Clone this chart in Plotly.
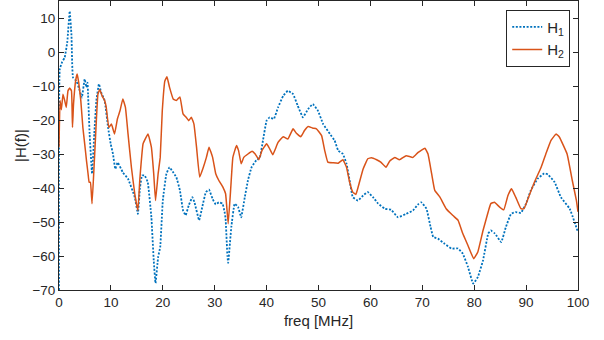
import plotly.graph_objects as go

freq_h1 = [0, 0.15, 0.6, 1.1, 1.6, 2.06, 2.4, 2.7, 3.35, 4.0, 4.4, 4.95, 5.3, 5.5, 5.6, 5.9, 6.37, 6.8, 7.2, 7.7,
           8.1, 8.8, 9.45, 9.96, 10.4, 10.85, 11.3, 12.3, 13.3, 14.6, 15.2, 15.6, 16.0, 16.5, 17.1, 17.8, 18.25,
           18.6, 19.1, 19.5, 20.0, 20.7, 21.3, 22.0, 22.6, 23.3, 23.9, 24.4, 25.0, 25.7, 26.1, 27.0, 27.6, 28.3,
           28.9, 29.6, 30.2, 30.8, 31.5, 31.9, 32.1, 32.45, 32.6, 33.2, 33.85, 34.5, 35.1, 35.8, 36.4, 37.1, 38.0,
           38.7, 39.3, 40.0, 40.6, 41.4, 42.2, 43.2, 44.1, 45.1, 46.0, 47.0, 48.0, 48.9, 49.9, 50.9, 52.2, 53.1,
           53.8, 54.7, 55.4, 56.0, 56.6, 57.6, 58.6, 59.5, 60.5, 61.5, 62.8, 64.0, 65.3, 66.9, 68.2, 69.2, 69.8,
           70.8, 71.6, 72.1, 73.0, 74.3, 75.6, 76.9, 77.8, 78.8, 79.8, 80.7, 81.7, 82.7, 83.2, 84.0, 85.2, 86.1,
           87.1, 88.0, 89.0, 90.0, 90.9, 92.2, 93.5, 94.2, 95.5, 96.7, 98.4, 100]
h1 = [-70, -5, -3, -1.6, 3, 12, 5, -7.5, -8.5, -11.4, -13.4, -8, -10.4, -9, -12.4, -24, -35.8, -24, -14.3, -9.4,
      -11.8, -14.3, -22.2, -27, -30, -34.4, -32.5, -35.4, -37.3, -42.7, -47.6, -40, -36.3, -36.3, -38.3, -48.6, -61.3,
      -68, -60.3, -57.4, -43.7, -35.8, -33.9, -35.4, -36.8, -40.7, -46.6, -48, -45.1, -42.7, -44.2, -49.5, -45.6, -41.2,
      -40.5, -43.2, -44.8, -44.2, -44.6, -47, -49, -60, -62, -51.5, -44.6, -45.6, -48.6, -42.7, -37.8, -33.9, -31.9,
      -31, -26, -20.2, -19.2, -19.7, -16.3, -12.9, -11.4, -12.4, -15.8, -19.2, -16.8, -15.3, -17.3, -21.2, -24.1, -26,
      -29, -30, -32.9, -37.8, -42.7, -43.7, -42.2, -41.2, -42.7, -44.6, -46.1, -46.4, -48.6, -47.6, -46.6, -44.8, -44.2,
      -46.1, -51.5, -54.4, -54.9, -56.4, -57.8, -57.8, -59.3, -63.2, -68.1, -66.2, -61.3, -53.4, -52.5, -53.4, -55.9, -51.5,
      -47.6, -47.1, -47.3, -44.6, -40.7, -37.3, -35.7, -36, -38.3, -42.7, -46.1, -53]

freq_h2 = [0, 0.2, 0.45, 0.77, 1.1, 1.4, 1.73, 2.06, 2.4, 2.6, 2.8, 3.2, 3.5, 3.8, 4.2, 4.6, 4.95, 5.3, 5.6, 5.8,
           6.05, 6.37, 6.75, 7.13, 7.5, 7.85, 8.3, 8.8, 9.1, 9.6, 10.1, 10.7, 11.25, 11.75, 12.3, 12.8, 13.3, 13.95,
           14.6, 15.2, 15.55, 15.7, 16.2, 17.15, 17.8, 18.25, 18.6, 19.1, 19.5, 19.9, 20.4, 20.8, 21.3, 22.0, 22.6,
           23.3, 23.9, 24.5, 25.0, 25.5, 26.0, 26.5, 27.1, 27.7, 28.4, 28.9, 29.6, 30.2, 30.8, 31.6, 32.1, 32.6, 33.1,
           33.5, 34.2, 34.6, 35.1, 35.6, 36.4, 37.2, 37.8, 38.5, 39.1, 40.0, 40.6, 41.2, 42.2, 43.2, 44.1, 45.1, 45.7,
           46.6, 47.3, 48.0, 48.9, 49.6, 50.6, 51.2, 51.8, 52.8, 53.8, 54.7, 55.4, 56.0, 56.6, 57.2, 57.8, 58.6, 59.5,
           60.2, 61.2, 62.0, 63.0, 63.7, 64.7, 65.6, 66.9, 68.2, 69.2, 70.5, 71.1, 71.8, 72.4, 73.4, 74.6, 75.9, 76.9,
           77.8, 78.8, 79.9, 80.7, 81.7, 82.7, 83.2, 83.9, 84.9, 85.7, 86.5, 87.2, 88.0, 89.0, 89.6, 90.6, 91.6, 92.9,
           93.8, 94.8, 95.8, 96.4, 97.9, 98.9, 99.7, 100]
h2 = [-28, -14.3, -17, -12.4, -14.3, -16.3, -11.4, -10.6, -11.4, -22.2, -15.3, -8.5, -6.5, -9, -14.3, -22.2, -27, -32,
      -35.8, -38.3, -38.3, -44.6, -33.9, -22.2, -12.4, -11, -12.9, -14.3, -16.3, -22.2, -21.2, -24.1, -19.7, -17.3,
      -13.8, -16.3, -24.1, -33.9, -41.7, -46.6, -38, -35, -27, -24.1, -28, -35.8, -43.7, -35.8, -31, -17.3, -8.5, -7.3,
      -10.4, -13.8, -14.3, -13.2, -18.2, -19.2, -20.2, -19.2, -21.2, -28, -36.8, -34.4, -31, -28, -31, -35.8, -37.8,
      -39.8, -41.7, -50.5, -39.8, -31, -27.5, -29, -32.9, -31, -30, -29.2, -30, -31.7, -29, -27, -28.5, -30.2, -26.6,
      -24.9, -25.6, -22.6, -23.8, -24.9, -23.1, -21.9, -22.4, -22.6, -24.6, -29, -32.4, -32.6, -32.7, -31.7, -33.9,
      -38.3, -41.2, -41.9, -38.8, -34.4, -31.4, -31.1, -31.7, -32.4, -33.9, -32.1, -31, -31.7, -30.5, -31, -29.5,
      -28.3, -30, -35.8, -40.7, -42.7, -46.1, -48.1, -49.5, -53.4, -56.9, -60.8, -58.8, -52.5, -47, -44.6, -44.2,
      -45.6, -46.4, -42.2, -40.2, -42.7, -46.1, -46.1, -42.2, -38.3, -33.9, -30, -26, -24.1, -25, -30, -37.8, -43.7, -47]

x_ticks = [0, 10, 20, 30, 40, 50, 60, 70, 80, 90, 100]
y_ticks = [-70, -60, -50, -40, -30, -20, -10, 0, 10]

axis_color = "#262626"
family = "Liberation Sans, Arial, sans-serif"
tick_font = dict(family=family, size=13.5, color=axis_color)
title_font = dict(family=family, size=15, color=axis_color)

fig = go.Figure()
fig.add_trace(go.Scatter(x=freq_h1, y=h1, mode="lines", name="H<sub>1</sub>",
                         line=dict(color="#0072BD", width=1.8, dash="2px,1.6px", shape="spline", smoothing=0.3)))
fig.add_trace(go.Scatter(x=freq_h2, y=h2, mode="lines", name="H<sub>2</sub>",
                         line=dict(color="#D95319", width=1.5, shape="spline", smoothing=0.3)))

axis_common = dict(showgrid=False, zeroline=False, showline=True, linecolor=axis_color, linewidth=1,
                   mirror="ticks", ticks="inside", ticklen=5, tickcolor=axis_color, tickwidth=1,
                   tickfont=tick_font)

fig.update_xaxes(range=[0, 100], tickvals=x_ticks, title=dict(text="freq [MHz]", font=title_font, standoff=6),
                 **axis_common)
fig.update_yaxes(range=[-70, 15], tickvals=y_ticks, title=dict(text="|H(f)|", font=title_font, standoff=2),
                 **axis_common)

fig.update_layout(
    width=604, height=340,
    margin=dict(l=59, r=26, t=1, b=50),
    paper_bgcolor="white", plot_bgcolor="white",
    font=tick_font,
    showlegend=True,
    legend=dict(x=0.985, y=0.97, xanchor="right", yanchor="top",
                bordercolor=axis_color, borderwidth=1, bgcolor="white",
                font=dict(family=family, size=15, color=axis_color),
                tracegroupgap=0, itemwidth=30),
)

fig.write_html("out.html")
